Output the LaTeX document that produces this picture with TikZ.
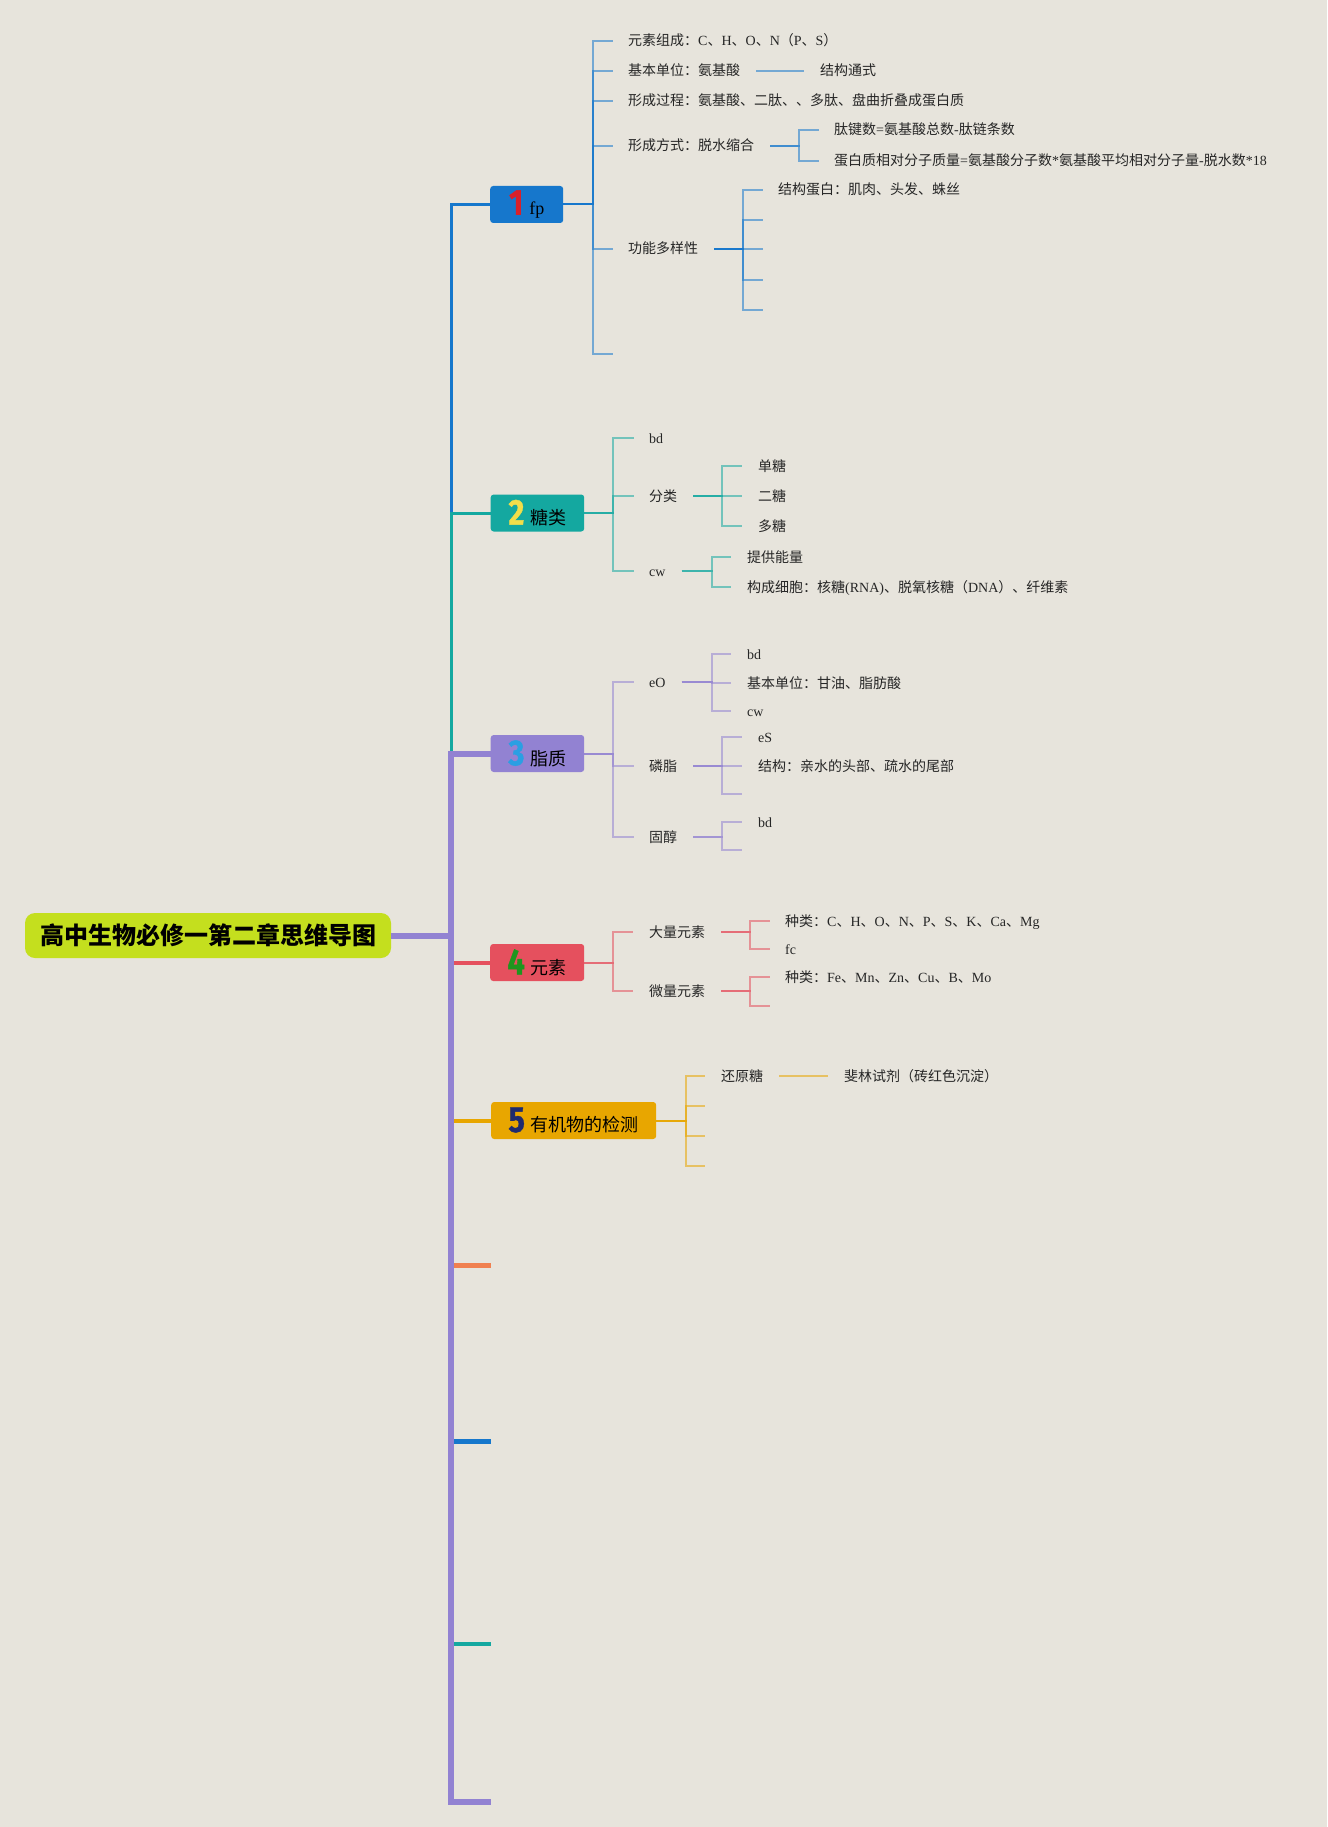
\documentclass[tikz,border=0pt]{standalone}
\usepackage{fontspec}
\usepackage{graphicx}
\setmainfont{Liberation Serif}
\newfontfamily\cjkfont{Noto Sans CJK SC}
\newfontfamily\latfont{Liberation Serif}
\newfontfamily\digfont{Fira Sans}
% automatic switch between Latin serif and CJK sans
\XeTeXinterchartokenstate=1
\newXeTeXintercharclass\CJKcls
\newcount\mycnt
\newcommand\setcjkrange[2]{\mycnt=#1\relax\loop\XeTeXcharclass\mycnt=\CJKcls\relax\ifnum\mycnt<#2\relax\advance\mycnt by 1\relax\repeat}
\setcjkrange{"3000}{"303F}
\setcjkrange{"4E00}{"9FFF}
\setcjkrange{"FF00}{"FFEF}
\XeTeXinterchartoks 0 \CJKcls={\cjkfont}
\XeTeXinterchartoks 4095 \CJKcls={\cjkfont}
\XeTeXinterchartoks \CJKcls 0={\latfont}
\XeTeXinterchartoks \CJKcls 4095={\latfont}

\definecolor{bgc}{HTML}{E7E4DC}
\definecolor{limeC}{HTML}{C4DF1E}
\definecolor{cB}{HTML}{1677CC}
\definecolor{cT}{HTML}{14A8A0}
\definecolor{cP}{HTML}{9282D2}
\definecolor{cR}{HTML}{E5505E}
\definecolor{cA}{HTML}{E8A600}
\definecolor{cO}{HTML}{F08050}
\definecolor{d1}{HTML}{D8202A}
\definecolor{d2}{HTML}{F2DE4A}
\definecolor{d3}{HTML}{2A9FE3}
\definecolor{d4}{HTML}{1E961E}
\definecolor{d5}{HTML}{1F2B6E}
\definecolor{txt}{HTML}{262626}

\newcommand\bigdig[2]{{\color{#1}\digfont\bfseries\fontsize{36}{36}\selectfont\addfontfeature{FakeBold=1.2}\scalebox{0.85}[1]{#2}}\hspace{6pt}}

\begin{document}
\begin{tikzpicture}[x=1pt,y=-1pt,
  subtxt/.style={anchor=west, inner sep=0pt, text height=12pt, text depth=2pt, font=\fontsize{14}{16}\selectfont, text=txt},
  mbox/.style={anchor=west, inner sep=0pt, minimum height=37pt, rounded corners=3pt, font=\fontsize{18}{20}\selectfont, text=black},
  rootbox/.style={fill=limeC, rounded corners=10pt, minimum width=366pt, minimum height=45pt, inner sep=0pt, font=\bfseries\fontsize{24}{28}\selectfont, text=black},
  kid/.style={line width=2pt, draw opacity=0.55, line join=miter},
  trunk/.style={line join=miter},
]
\fill[bgc] (0,0) rectangle (1327,1827);
\useasboundingbox (0,0) rectangle (1327,1827);

% ---------- root and main boxes ----------
\node[rootbox] (root) at (208,935.5) {高中生物必修一第二章思维导图};
\node[mbox, fill=cB, minimum width=73pt] (b1) at (490,204.5) {\bigdig{d1}{1}fp};
\node[mbox, fill=cT, minimum width=93.5pt] (b2) at (490.5,513) {\bigdig{d2}{2}糖类};
\node[mbox, fill=cP, minimum width=93.5pt] (b3) at (490.5,753.5) {\bigdig{d3}{3}脂质};
\node[mbox, fill=cR, minimum width=94pt] (b4) at (490,962.5) {\bigdig{d4}{4}元素};
\node[mbox, fill=cA, minimum width=165pt] (b5) at (491,1120.5) {\bigdig{d5}{5}有机物的检测};
\coordinate (J) at (451,935.5);
\coordinate (s6) at (491,1265);
\coordinate (s7) at (491,1441);
\coordinate (s8) at (491,1644);
\coordinate (s9) at (491,1802);

% ---------- branch 1 texts ----------
\node[subtxt] (c11) at (628,41) {元素组成：C、H、O、N（P、S）};
\node[subtxt] (c12) at (628,71) {基本单位：氨基酸};
\node[subtxt] (c121) at (820,71) {结构通式};
\node[subtxt] (c13) at (628,101) {形成过程：氨基酸、二肽、、多肽、盘曲折叠成蛋白质};
\node[subtxt] (c14) at (628,146) {形成方式：脱水缩合};
\node[subtxt] (c141) at (834,130) {肽键数=氨基酸总数-肽链条数};
\node[subtxt] (c142) at (834,161) {蛋白质相对分子质量=氨基酸分子数*氨基酸平均相对分子量-脱水数*18};
\node[subtxt] (c15) at (628,249) {功能多样性};
\node[subtxt] (c151) at (778,190) {结构蛋白：肌肉、头发、蛛丝};
\coordinate (e152) at (763,220);
\coordinate (e153) at (763,249);
\coordinate (e154) at (763,280);
\coordinate (e155) at (763,310);
\coordinate (e16) at (613,354);

% ---------- branch 2 texts ----------
\node[subtxt] (c21) at (649,438) {bd};
\node[subtxt] (c22) at (649,496) {分类};
\node[subtxt] (c23) at (649,571) {cw};
\node[subtxt] (c221) at (758,466) {单糖};
\node[subtxt] (c222) at (758,496) {二糖};
\node[subtxt] (c223) at (758,526) {多糖};
\node[subtxt] (c231) at (747,557) {提供能量};
\node[subtxt] (c232) at (747,587) {构成细胞：核糖(RNA)、脱氧核糖（DNA）、纤维素};

% ---------- branch 3 texts ----------
\node[subtxt] (c31) at (649,682) {eO};
\node[subtxt] (c32) at (649,766) {磷脂};
\node[subtxt] (c33) at (649,837) {固醇};
\node[subtxt] (c311) at (747,654) {bd};
\node[subtxt] (c312) at (747,683) {基本单位：甘油、脂肪酸};
\node[subtxt] (c313) at (747,711) {cw};
\node[subtxt] (c321) at (758,737) {eS};
\node[subtxt] (c322) at (758,766) {结构：亲水的头部、疏水的尾部};
\coordinate (e323) at (742,794);
\node[subtxt] (c331) at (758,822) {bd};
\coordinate (e332) at (742,850);

% ---------- branch 4 texts ----------
\node[subtxt] (c41) at (649,932) {大量元素};
\node[subtxt] (c42) at (649,991) {微量元素};
\node[subtxt] (c411) at (785,921) {种类：C、H、O、N、P、S、K、Ca、Mg};
\node[subtxt] (c412) at (785,949) {fc};
\node[subtxt] (c421) at (785,977) {种类：Fe、Mn、Zn、Cu、B、Mo};
\coordinate (e422) at (770,1006);

% ---------- branch 5 texts ----------
\node[subtxt] (c51) at (721,1076) {还原糖};
\node[subtxt] (c511) at (844,1076) {斐林试剂（砖红色沉淀）};
\coordinate (e52) at (705,1106);
\coordinate (e53) at (705,1136);
\coordinate (e54) at (705,1166);

% ---------- trunk ----------
\draw[trunk, cB, line width=3pt] (J) |- (b1.west);
\draw[trunk, cT, line width=3pt] (J) |- (b2.west);
\draw[trunk, cR, line width=4pt] (J) |- (b4.west);
\draw[trunk, cA, line width=4pt] (J) |- (b5.west);
\draw[trunk, cO, line width=5pt] (J) |- (s6);
\draw[trunk, cB, line width=5pt] (J) |- (s7);
\draw[trunk, cT, line width=4pt] (J) |- (s8);
\draw[trunk, cP, line width=6pt] (J) |- (b3.west);
\draw[trunk, cP, line width=6pt] (J) |- (s9);
\draw[trunk, cP, line width=6pt] (root.east) -- (J);

% ---------- branch 1 connectors ----------
\coordinate (j1) at (593,0 |- b1.east);
\foreach \c in {c11,c12,c13,c14,c15}
  \draw[kid,cB] (b1.east) -- (j1) |- ([xshift=-15pt]\c.west);
\draw[kid,cB] (b1.east) -- (j1) |- (e16);
\draw[kid,cB] ([xshift=16pt]c12.east) -- ([xshift=-16pt]c121.west);
\coordinate (j14) at (799,0 |- c14.east);
\foreach \c in {c141,c142}
  \draw[kid,cB] ([xshift=16pt]c14.east) -- (j14) |- ([xshift=-15pt]\c.west);
\coordinate (j15) at (743,0 |- c15.east);
\draw[kid,cB] ([xshift=16pt]c15.east) -- (j15) |- ([xshift=-15pt]c151.west);
\foreach \c in {e152,e153,e154,e155}
  \draw[kid,cB] ([xshift=16pt]c15.east) -- (j15) |- (\c);

% ---------- branch 2 connectors ----------
\coordinate (j2) at (613,0 |- b2.east);
\foreach \c in {c21,c22,c23}
  \draw[kid,cT] (b2.east) -- (j2) |- ([xshift=-15pt]\c.west);
\coordinate (j22) at (722,0 |- c22.east);
\foreach \c in {c221,c222,c223}
  \draw[kid,cT] ([xshift=16pt]c22.east) -- (j22) |- ([xshift=-16pt]\c.west);
\coordinate (j23) at (712,0 |- c23.east);
\foreach \c in {c231,c232}
  \draw[kid,cT] ([xshift=16pt]c23.east) -- (j23) |- ([xshift=-16pt]\c.west);

% ---------- branch 3 connectors ----------
\coordinate (j3) at (613,0 |- b3.east);
\foreach \c in {c31,c32,c33}
  \draw[kid,cP] (b3.east) -- (j3) |- ([xshift=-15pt]\c.west);
\coordinate (j31) at (712,0 |- c31.east);
\foreach \c in {c311,c312,c313}
  \draw[kid,cP] ([xshift=16pt]c31.east) -- (j31) |- ([xshift=-16pt]\c.west);
\coordinate (j32) at (722,0 |- c32.east);
\foreach \c in {c321,c322}
  \draw[kid,cP] ([xshift=16pt]c32.east) -- (j32) |- ([xshift=-16pt]\c.west);
\draw[kid,cP] ([xshift=16pt]c32.east) -- (j32) |- (e323);
\coordinate (j33) at (722,0 |- c33.east);
\draw[kid,cP] ([xshift=16pt]c33.east) -- (j33) |- ([xshift=-16pt]c331.west);
\draw[kid,cP] ([xshift=16pt]c33.east) -- (j33) |- (e332);

% ---------- branch 4 connectors ----------
\coordinate (j4) at (613,0 |- b4.east);
\foreach \c in {c41,c42}
  \draw[kid,cR] (b4.east) -- (j4) |- ([xshift=-16pt]\c.west);
\coordinate (j41) at (750,0 |- c41.east);
\foreach \c in {c411,c412}
  \draw[kid,cR] ([xshift=16pt]c41.east) -- (j41) |- ([xshift=-15pt]\c.west);
\coordinate (j42) at (750,0 |- c42.east);
\draw[kid,cR] ([xshift=16pt]c42.east) -- (j42) |- ([xshift=-15pt]c421.west);
\draw[kid,cR] ([xshift=16pt]c42.east) -- (j42) |- (e422);

% ---------- branch 5 connectors ----------
\coordinate (j5) at (686,0 |- b5.east);
\draw[kid,cA] (b5.east) -- (j5) |- ([xshift=-16pt]c51.west);
\foreach \c in {e52,e53,e54}
  \draw[kid,cA] (b5.east) -- (j5) |- (\c);
\draw[kid,cA] ([xshift=16pt]c51.east) -- ([xshift=-16pt]c511.west);
\end{tikzpicture}
\end{document}
